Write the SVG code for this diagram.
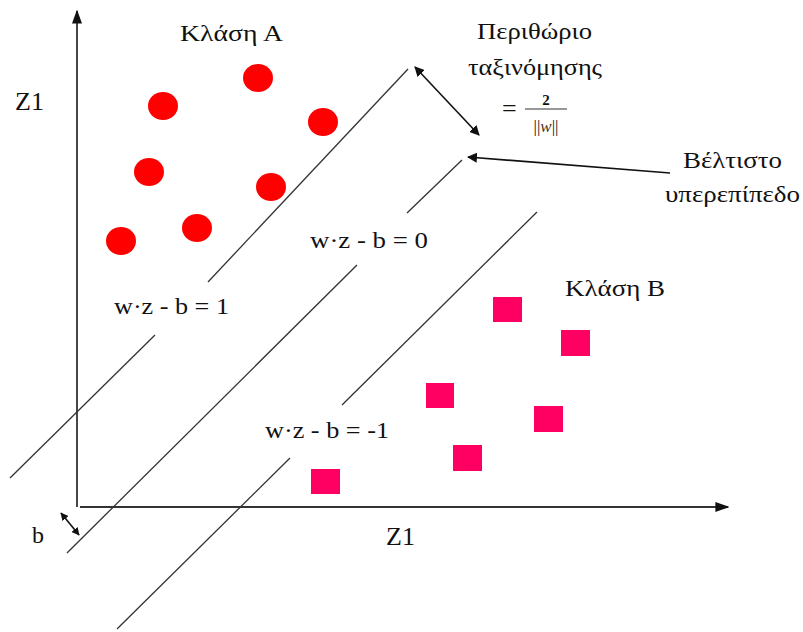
<svg xmlns="http://www.w3.org/2000/svg" width="803" height="632" viewBox="0 0 803 632" font-family="'Liberation Serif', 'Times New Roman', 'DejaVu Serif', serif">
<style>
text{font-family:'Liberation Serif','Times New Roman','DejaVu Serif',serif;fill:#111}
.lbl{font-size:24px}
.eq{font-size:24px}
.hl{stroke:#333;stroke-width:1.3;fill:none}
.ax{stroke:#333;stroke-width:1.8;fill:none}
.ar{stroke:#111;stroke-width:1.6;fill:none}
.pt{fill:#ff0000}
.sq{fill:#ff0062}
</style>
<defs>
<marker id="ah" viewBox="0 0 10 10" refX="9" refY="5" markerWidth="10" markerHeight="10" markerUnits="userSpaceOnUse" orient="auto-start-reverse">
<path d="M0,0 L10,5 L0,10 z" fill="#111"/>
</marker>
<marker id="ahs" viewBox="0 0 10 10" refX="9" refY="5" markerWidth="8" markerHeight="8" markerUnits="userSpaceOnUse" orient="auto-start-reverse">
<path d="M0,0 L10,5 L0,10 z" fill="#111"/>
</marker>
<marker id="axh" viewBox="0 0 10 10" refX="9" refY="5" markerWidth="14" markerHeight="10" markerUnits="userSpaceOnUse" orient="auto" preserveAspectRatio="none">
<path d="M0,0 L10,5 L0,10 z" fill="#111"/>
</marker>
</defs>
<g id="axes">
<line class="ax" x1="77" y1="507" x2="77" y2="11" marker-end="url(#axh)"/>
<line class="ax" x1="80" y1="507" x2="728" y2="507" marker-end="url(#axh)"/>
<text x="15" y="110" font-size="26">Z1</text>
<text x="386" y="545" font-size="26">Z1</text>
<text class="lbl" x="32" y="543">b</text>
</g>
<g id="hyperplanes">
<line class="hl" x1="408" y1="69" x2="208" y2="282"/>
<line class="hl" x1="155" y1="335" x2="10" y2="478"/>
<line class="hl" x1="462" y1="160" x2="407" y2="213"/>
<line class="hl" x1="357" y1="265" x2="67" y2="553"/>
<line class="hl" x1="537" y1="212" x2="342" y2="405"/>
<line class="hl" x1="290" y1="458" x2="117" y2="629"/>
</g>
<g id="connectors">
<line class="ar" x1="415" y1="67" x2="479" y2="135" marker-start="url(#ah)" marker-end="url(#ah)"/>
<line class="ar" x1="670" y1="173" x2="468" y2="157" marker-end="url(#ah)"/>
<line class="ar" x1="61" y1="513" x2="79" y2="535" marker-start="url(#ahs)" marker-end="url(#ahs)"/>
</g>
<g id="classA">
<ellipse class="pt" cx="163" cy="106" rx="15" ry="14"/>
<ellipse class="pt" cx="258" cy="78" rx="15" ry="14"/>
<ellipse class="pt" cx="323" cy="122" rx="15" ry="14"/>
<ellipse class="pt" cx="149" cy="172" rx="15" ry="14"/>
<ellipse class="pt" cx="271" cy="187" rx="15" ry="14"/>
<ellipse class="pt" cx="197" cy="228" rx="15" ry="14"/>
<ellipse class="pt" cx="121" cy="241" rx="15" ry="14"/>
<text class="lbl" x="180" y="41" textLength="103" lengthAdjust="spacingAndGlyphs">Κλάση Α</text>
</g>
<g id="classB">
<rect class="sq" x="493" y="297" width="29" height="25"/>
<rect class="sq" x="561" y="330" width="29" height="26"/>
<rect class="sq" x="426" y="383" width="28" height="25"/>
<rect class="sq" x="534" y="406" width="29" height="26"/>
<rect class="sq" x="453" y="445" width="29" height="26"/>
<rect class="sq" x="311" y="469" width="29" height="25"/>
<text class="lbl" x="565" y="296" textLength="100" lengthAdjust="spacingAndGlyphs">Κλάση Β</text>
</g>
<g id="labels">
<text class="eq" x="114" y="314" textLength="115" lengthAdjust="spacingAndGlyphs">w·z - b = 1</text>
<text class="eq" x="310" y="248" textLength="118" lengthAdjust="spacingAndGlyphs">w·z - b = 0</text>
<text class="eq" x="265" y="438" textLength="124" lengthAdjust="spacingAndGlyphs">w·z - b = -1</text>
</g>
<g id="margin">
<text class="lbl" x="477" y="39" textLength="115" lengthAdjust="spacingAndGlyphs">Περιθώριο</text>
<text class="lbl" x="468" y="75" textLength="134" lengthAdjust="spacingAndGlyphs">ταξινόμησης</text>
<text x="502" y="117" font-size="26">=</text>
<text x="546" y="105" text-anchor="middle" font-size="15" font-weight="bold" fill="#222">2</text>
<line x1="525" y1="109" x2="567" y2="109" stroke="#333" stroke-width="1.2"/>
<text x="546" y="132" text-anchor="middle" font-size="17" fill="#333">||<tspan font-style="italic" fill="#4a3020">w</tspan>||</text>
</g>
<g id="optimal">
<text class="lbl" x="683" y="168" textLength="99" lengthAdjust="spacingAndGlyphs">Βέλτιστο</text>
<text class="lbl" x="665" y="202" textLength="135" lengthAdjust="spacingAndGlyphs">υπερεπίπεδο</text>
</g>
</svg>
